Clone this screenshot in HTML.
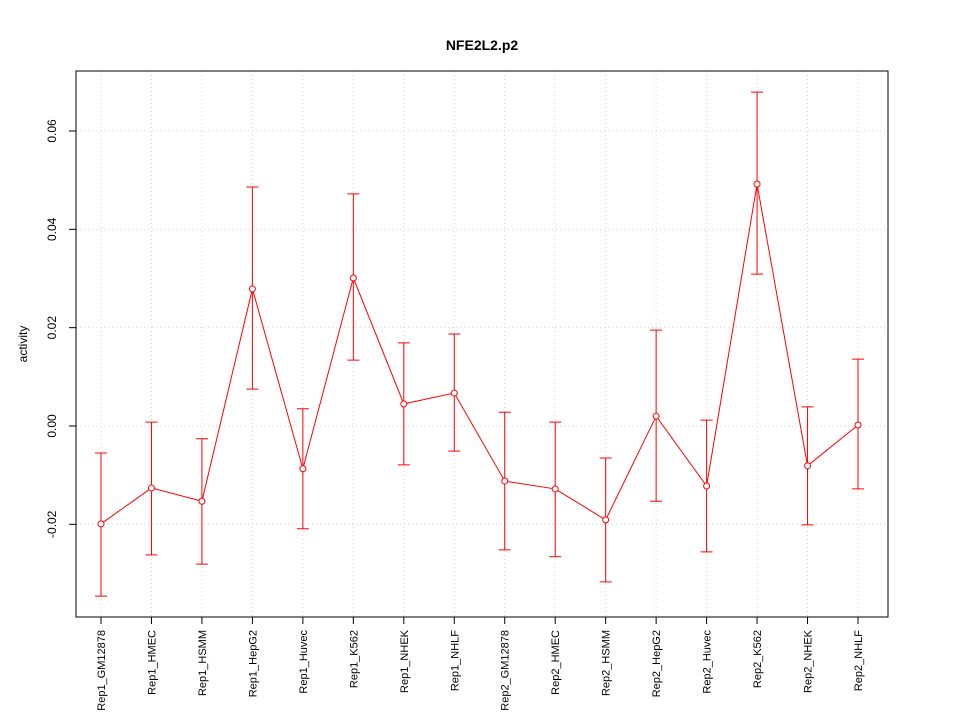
<!DOCTYPE html>
<html><head><meta charset="utf-8"><style>
html,body{margin:0;padding:0;background:#fff;}
svg{display:block;font-family:"Liberation Sans",sans-serif;}
</style></head><body>
<svg id="chart" width="960" height="720" viewBox="0 0 960 720">
<rect width="960" height="720" fill="#fff"/>
<text x="482" y="50" text-anchor="middle" font-size="14" font-weight="bold">NFE2L2.p2</text>
<text transform="translate(27,344) rotate(-90)" text-anchor="middle" font-size="12">activity</text>
<g id="grid"></g><g id="yaxis"></g><g id="xaxis"></g><g id="series"></g>
<rect x="76" y="71" width="812" height="546" fill="none" stroke="#000"/>
</svg>
<script>
const categories=["Rep1_GM12878","Rep1_HMEC","Rep1_HSMM","Rep1_HepG2","Rep1_Huvec","Rep1_K562","Rep1_NHEK","Rep1_NHLF","Rep2_GM12878","Rep2_HMEC","Rep2_HSMM","Rep2_HepG2","Rep2_Huvec","Rep2_K562","Rep2_NHEK","Rep2_NHLF"];
const values=[-0.0199,-0.0126,-0.0153,0.0279,-0.0087,0.0301,0.0045,0.0067,-0.0112,-0.0128,-0.0191,0.0020,-0.0122,0.0492,-0.0081,0.0002];
const upper=[-0.0055,0.0008,-0.0026,0.0486,0.0035,0.0472,0.0169,0.0187,0.0028,0.0008,-0.0065,0.0195,0.0012,0.0679,0.0039,0.0136];
const lower=[-0.0346,-0.0262,-0.0281,0.0075,-0.0209,0.0134,-0.0079,-0.0051,-0.0252,-0.0266,-0.0317,-0.0153,-0.0256,0.0309,-0.0201,-0.0128];
const yTicks=[-0.02,0.00,0.02,0.04,0.06];
const yTickLabels=["-0.02","0.00","0.02","0.04","0.06"];
const NS="http://www.w3.org/2000/svg";
const x=i=>101+i*(858-101)/(categories.length-1);
const y=v=>426-v*4916.7;
function mk(tag,attrs,parent){const e=document.createElementNS(NS,tag);for(const k in attrs)e.setAttribute(k,attrs[k]);document.getElementById(parent).appendChild(e);return e;}
yTicks.forEach((t,i)=>{
  const g=mk("line",{x1:76,x2:888,y1:y(t),y2:y(t),stroke:"#d3d3d3","stroke-dasharray":"1,3"},"grid");
  
  
  const tk=mk("line",{x1:69,x2:76,y1:y(t),y2:y(t),stroke:"#000"},"yaxis");
  
  
  const lb=mk("text",{transform:`translate(56,${y(t)}) rotate(-90)`,"text-anchor":"middle","font-size":"12"},"yaxis");
  lb.textContent=yTickLabels[i];
  
  
});
categories.forEach((c,i)=>{
  const g=mk("line",{x1:x(i),x2:x(i),y1:71,y2:617,stroke:"#d3d3d3","stroke-dasharray":"1,3"},"grid");
  
  
  const tk=mk("line",{x1:x(i),x2:x(i),y1:617,y2:624,stroke:"#000"},"xaxis");
  
  
  const lb=mk("text",{transform:`translate(${x(i)+4},630) rotate(-90)`,"text-anchor":"end","font-size":"11"},"xaxis");
  lb.textContent=c;
  
  
});
const pl=mk("polyline",{points:values.map((v,i)=>x(i)+","+y(v)).join(" "),fill:"none",stroke:"#ff0000"},"series");


values.forEach((v,i)=>{
  const e=mk("path",{d:`M${x(i)},${y(upper[i])}V${y(lower[i])}M${x(i)-6},${y(upper[i])}H${x(i)+6}M${x(i)-6},${y(lower[i])}H${x(i)+6}`,stroke:"#ff0000",fill:"none"},"series");
  
  
  const p=mk("circle",{cx:x(i),cy:y(v),r:3,fill:"#fff",stroke:"#ff0000"},"series");
  
  
});
</script>
</body></html>
